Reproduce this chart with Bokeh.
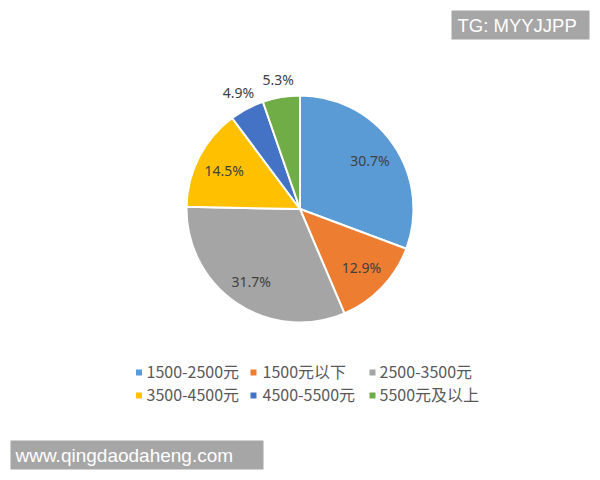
import numpy as np
from bokeh.plotting import figure
from bokeh.models import Range1d, ColumnDataSource
from bokeh.core.properties import value
from bokeh.embed import file_html
from bokeh.resources import INLINE

categories = ["1500-2500元", "1500元以下", "2500-3500元", "3500-4500元", "4500-5500元", "5500元及以上"]
shares = [30.7, 12.9, 31.7, 14.5, 4.9, 5.3]
label_texts = ["30.7%", "12.9%", "31.7%", "14.5%", "4.9%", "5.3%"]
colors = ["#5B9BD5", "#ED7D31", "#A5A5A5", "#FFC000", "#4472C4", "#70AD47"]

W, H = 592, 472
p = figure(width=W, height=H, output_backend="svg", toolbar_location=None,
           x_range=Range1d(0, W), y_range=Range1d(-H, 0),
           min_border=0, background_fill_color="white", border_fill_color="white")
p.axis.visible = False
p.grid.visible = False
p.outline_line_color = None

cx, cy, r = 299.5, -208.5, 113.5
fr = np.array(shares) / sum(shares)
cum = np.concatenate([[0], np.cumsum(fr)])
starts = np.pi / 2 - cum[:-1] * 2 * np.pi
ends = np.pi / 2 - cum[1:] * 2 * np.pi
mids = (starts + ends) / 2

src = ColumnDataSource(dict(start=starts, end=ends, color=colors))
p.wedge(x=cx, y=cy, radius=r, start_angle="start", end_angle="end", direction="clock",
        fill_color="color", line_color="white", line_width=2, source=src)

rf = np.array([0.75, 0.75, 0.77, 0.75, 1.16, 1.16])
lx = cx + rf * r * np.cos(mids)
ly = cy + rf * r * np.sin(mids)
p.text(x=lx, y=ly, text=label_texts, text_align="center", text_baseline="middle",
       text_font=value("Noto Sans"), text_font_size="14px", text_color="#404040")

# legend
col_sq = [138.5, 253, 372]
col_tx = [146, 262, 379]
row_y = [-372, -395]
sx, sy, tx, ty = [], [], [], []
for i in range(len(categories)):
    rr, cc = divmod(i, 3)
    sx.append(col_sq[cc]); sy.append(row_y[rr])
    tx.append(col_tx[cc]); ty.append(row_y[rr] + 2)
p.rect(x=sx, y=sy, width=6, height=6, fill_color=colors, line_color=None)
p.text(x=tx, y=ty, text=categories, text_align="left", text_baseline="middle",
       text_font=value("Noto Sans CJK SC"), text_font_size="16px", text_color="#595959")

# watermarks
p.quad(left=[451, 10], right=[589, 263], top=[-10, -440], bottom=[-39, -469],
       fill_color="#A6A6A6", line_color=None)
p.text(x=[457], y=[-25], text=["TG: MYYJJPP"],
       text_align="left", text_baseline="middle",
       text_font=value("Liberation Sans"), text_font_size="18.5px", text_color="white")
p.text(x=[15], y=[-455], text=["www.qingdaodaheng.com"],
       text_align="left", text_baseline="middle",
       text_font=value("Liberation Sans"), text_font_size="19px", text_color="white")

open("out.html", "w").write(file_html(p, INLINE))
